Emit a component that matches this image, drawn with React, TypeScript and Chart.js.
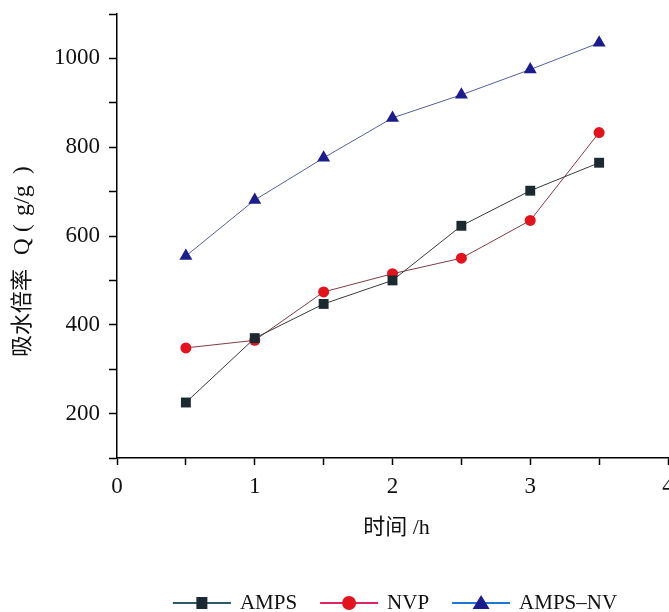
import React, { useEffect, useRef } from 'react';
import { Chart, registerables } from 'chart.js';

Chart.register(...registerables);

const xValues = [0.5, 1, 1.5, 2, 2.5, 3, 3.5];
const ampsValues = [225, 370, 447, 500, 623, 702, 765];
const nvpValues = [348, 365, 474, 515, 550, 635, 833];
const ampsNvValues = [555, 681, 776, 866, 918, 975, 1035];
const seriesNames = ['AMPS', 'NVP', 'AMPS–NV'];
const xTickLabels = [0, 1, 2, 3, 4];
const yTickLabels = [200, 400, 600, 800, 1000];
const xTitle = '时间 /h';
const yTitleParts = ['吸水倍率', 'Q', '(', 'g/g', ')'];

const SERIF = "'Liberation Serif', 'Times New Roman', 'Noto Sans CJK SC', serif";

const markerColors = ['#1b2a31', '#e3121c', '#1c1d8c'];
const plotLineColors = ['#3a3a3a', '#7d3d47', '#55609a'];
const legendLineColors = ['#2c5966', '#e0245e', '#1f78d6'];
const pointStyles = ['rect', 'circle', 'triangle'];
const pointRadii = [7, 5.5, 7.5];

function drawMarker(ctx: CanvasRenderingContext2D, style: string, x: number, y: number, color: string) {
  ctx.fillStyle = color;
  ctx.beginPath();
  if (style === 'rect') {
    ctx.rect(x - 5.5, y - 6, 11, 12);
  } else if (style === 'circle') {
    ctx.arc(x, y, 7, 0, Math.PI * 2);
  } else {
    ctx.moveTo(x, y - 8);
    ctx.lineTo(x + 8.5, y + 6);
    ctx.lineTo(x - 8.5, y + 6);
    ctx.closePath();
  }
  ctx.fill();
}

const decorPlugin = {
  id: 'decor',
  afterDraw(chart: any) {
    const ctx: CanvasRenderingContext2D = chart.ctx;
    const area = chart.chartArea;
    ctx.save();
    ctx.fillStyle = '#111';
    // x title
    ctx.font = `22px ${SERIF}`;
    ctx.textAlign = 'center';
    ctx.textBaseline = 'middle';
    ctx.fillText(xTitle, (area.left + area.right) / 2 + 4, 528);
    // y title (rotated, drawn in parts)
    ctx.save();
    ctx.translate(23, 357);
    ctx.rotate(-Math.PI / 2);
    ctx.textAlign = 'left';
    ctx.textBaseline = 'middle';
    const offsets = [0, 102, 125, 141, 183];
    const sizes = [22, 23, 23, 24, 23];
    yTitleParts.forEach((t, i) => {
      ctx.font = `${sizes[i]}px ${SERIF}`;
      ctx.fillText(t, offsets[i], 0);
    });
    ctx.restore();

    // legend
    ctx.font = `21px ${SERIF}`;
    const lineLen = 58;
    const gapText = 9;
    const gapItem = 23;
    const widths = seriesNames.map((n) => ctx.measureText(n).width);
    const total = widths.reduce((a, b) => a + b, 0) + seriesNames.length * (lineLen + gapText) + gapItem * (seriesNames.length - 1);
    let x = 395 - total / 2;
    const y = 603;
    seriesNames.forEach((name, i) => {
      ctx.strokeStyle = legendLineColors[i];
      ctx.lineWidth = 2;
      ctx.beginPath();
      ctx.moveTo(x, y);
      ctx.lineTo(x + lineLen, y);
      ctx.stroke();
      drawMarker(ctx, pointStyles[i], x + lineLen / 2, y, markerColors[i]);
      ctx.fillStyle = '#111';
      ctx.textAlign = 'left';
      ctx.textBaseline = 'middle';
      ctx.fillText(name, x + lineLen + gapText, y);
      x += lineLen + gapText + widths[i] + gapItem;
    });
    ctx.restore();
  },
};

export default function App() {
  const canvasRef = useRef<HTMLCanvasElement>(null);

  useEffect(() => {
    const canvas = canvasRef.current;
    if (!canvas) return;
    const seriesValues = [ampsValues, nvpValues, ampsNvValues];
    const chart = new Chart(canvas, {
      type: 'line',
      data: {
        datasets: seriesValues.map((vals, i) => ({
          label: seriesNames[i],
          data: xValues.map((x, j) => ({ x, y: vals[j] })),
          borderColor: plotLineColors[i],
          borderWidth: 1,
          backgroundColor: markerColors[i],
          pointBackgroundColor: markerColors[i],
          pointBorderColor: markerColors[i],
          pointBorderWidth: 0,
          pointStyle: pointStyles[i] as any,
          pointRadius: pointRadii[i],
          tension: 0,
          fill: false,
        })),
      },
      options: {
        responsive: true,
        maintainAspectRatio: false,
        animation: false,
        layout: { padding: { top: 14, right: 22, left: 0, bottom: 0 } },
        plugins: {
          legend: { display: false },
          tooltip: { enabled: false },
          title: { display: false },
        },
        scales: {
          x: {
            type: 'linear',
            min: 0,
            max: 4,
            border: { display: true, color: '#000', width: 1.5 },
            grid: { drawOnChartArea: false, drawTicks: true, tickLength: 7, tickColor: '#000', tickWidth: 1.5 },
            ticks: {
              stepSize: 0.5,
              autoSkip: false,
              maxRotation: 0,
              padding: 8,
              color: '#111',
              font: { family: SERIF, size: 23 },
              callback: (v: any) => (xTickLabels.includes(Number(v)) ? String(v) : ''),
            },
            afterFit: (scale: any) => {
              scale.height = 612 - 458;
              scale.paddingLeft = 0;
              scale.paddingRight = 0;
            },
          },
          y: {
            type: 'linear',
            min: 100,
            max: 1100,
            border: { display: true, color: '#000', width: 1.5 },
            grid: { drawOnChartArea: false, drawTicks: true, tickLength: 8, tickColor: '#000', tickWidth: 1.5 },
            ticks: {
              stepSize: 100,
              autoSkip: false,
              padding: 9,
              color: '#111',
              font: { family: SERIF, size: 23 },
              callback: (v: any) => (yTickLabels.includes(Number(v)) ? String(v) : ''),
            },
            afterFit: (scale: any) => {
              scale.width = 117;
              scale.paddingTop = 0;
              scale.paddingBottom = 0;
            },
          },
        },
      },
      plugins: [decorPlugin],
    });
    return () => chart.destroy();
  }, []);

  return (
    <div style={{ position: 'absolute', left: 0, top: 0, width: 669, height: 612, overflow: 'hidden', background: '#fff' }}>
      <div style={{ position: 'relative', width: 690, height: 612 }}>
        <canvas ref={canvasRef} />
      </div>
    </div>
  );
}
